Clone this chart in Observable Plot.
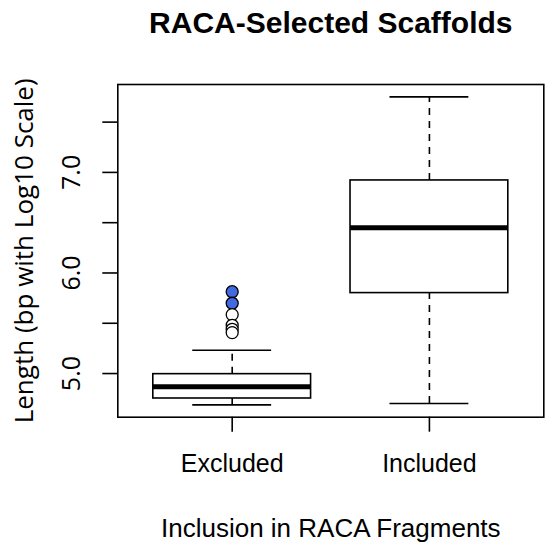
<!DOCTYPE html>
<html><head><meta charset="utf-8">
<script src="https://cdn.jsdelivr.net/npm/d3@7"></script>
<script src="https://cdn.jsdelivr.net/npm/@observablehq/plot@0.6"></script>
<style>body{margin:0;background:#fff}svg{display:block}</style>
</head><body><div id="chart"></div>
<script>
// ---- data ----
const categories = ["Excluded", "Included"];
const whiskerLow = [4.689, 4.702];
const q1 = [4.752, 5.800];
const median = [4.868, 6.450];
const q3 = [4.994, 6.920];
const whiskerHigh = [5.232, 7.751];
const outlierCategory = ["Excluded", "Excluded", "Excluded", "Excluded", "Excluded", "Excluded"];
const outlierValues = [5.814, 5.699, 5.586, 5.480, 5.440, 5.407];
const outlierHighlighted = [true, true, false, false, false, false];
const yTicks = [5.0, 5.5, 6.0, 6.5, 7.0, 7.5];
const yTickLabels = ["5.0", "", "6.0", "", "7.0", ""];
const titleText = "RACA-Selected Scaffolds";
const xTitle = "Inclusion in RACA Fragments";
const yTitle = "Length (bp with Log10 Scale)";

// ---- derived tables ----
const boxes = categories.map((c, i) => ({
  cat: c, pos: i + 1, lo: whiskerLow[i], q1: q1[i], med: median[i], q3: q3[i], hi: whiskerHigh[i]
}));
const outliers = outlierValues.map((v, i) => ({
  pos: categories.indexOf(outlierCategory[i]) + 1, value: v, hl: outlierHighlighted[i]
}));
const yLabels = yTicks.map((v, i) => ({v, label: yTickLabels[i]})).filter(d => d.label);

const halfBox = 0.4, halfCap = 0.2, lw = 1.6;
const sans = "'Liberation Sans', Arial, sans-serif";
const ySans = "'Open Sans', 'Liberation Sans', sans-serif";

const chart = Plot.plot({
  width: 550, height: 543,
  marginLeft: 117.3, marginRight: 6.7, marginTop: 84, marginBottom: 126.3,
  style: {fontFamily: sans, background: "#fff", color: "#000", overflow: "visible"},
  x: {type: "linear", domain: [0.42, 2.58], axis: null},
  y: {type: "linear", domain: [4.566, 7.874], axis: null},
  marks: [
    Plot.axisY({ticks: yTicks, tickSize: 15, tickFormat: () => "", label: null, strokeWidth: lw}),
    Plot.axisX({ticks: [1, 2], tickSize: 15, tickFormat: () => "", label: null, strokeWidth: lw}),
    // whiskers
    Plot.ruleX(boxes, {x: "pos", y1: "q3", y2: "hi", strokeWidth: lw, strokeDasharray: "7,6"}),
    Plot.ruleX(boxes, {x: "pos", y1: "lo", y2: "q1", strokeWidth: lw, strokeDasharray: "7,6"}),
    Plot.ruleY(boxes, {y: "hi", x1: d => d.pos - halfCap, x2: d => d.pos + halfCap, strokeWidth: lw}),
    Plot.ruleY(boxes, {y: "lo", x1: d => d.pos - halfCap, x2: d => d.pos + halfCap, strokeWidth: lw}),
    // boxes
    Plot.rect(boxes, {x1: d => d.pos - halfBox, x2: d => d.pos + halfBox, y1: "q1", y2: "q3",
      fill: "white", stroke: "black", strokeWidth: lw}),
    Plot.ruleY(boxes, {y: "med", x1: d => d.pos - halfBox, x2: d => d.pos + halfBox, strokeWidth: 5}),
    // outliers
    Plot.dot(outliers, {x: "pos", y: "value", r: 6, fill: d => d.hl ? "#4169E1" : "white",
      stroke: "black", strokeWidth: 1.3}),
    Plot.frame({stroke: "black", strokeWidth: lw}),
    // tick labels
    Plot.text(yLabels, {y: "v", text: "label", frameAnchor: "left", dx: -46, rotate: -90,
      fontSize: 25, fontFamily: ySans, lineAnchor: "middle", textAnchor: "middle"}),
    Plot.text(boxes, {x: "pos", text: "cat", frameAnchor: "bottom", dy: 47, fontSize: 25, lineAnchor: "middle"}),
    // titles
    Plot.text([xTitle], {frameAnchor: "bottom", dy: 111, fontSize: 26, lineAnchor: "middle"}),
    Plot.text([yTitle], {frameAnchor: "left", dx: -93, rotate: -90, fontSize: 26, fontFamily: ySans,
      lineAnchor: "middle", textAnchor: "middle"}),
    Plot.text([titleText], {frameAnchor: "top", dy: -61.5, fontSize: 30, fontWeight: "bold", lineAnchor: "middle"})
  ]
});
document.getElementById("chart").appendChild(chart);
</script>
</body></html>
